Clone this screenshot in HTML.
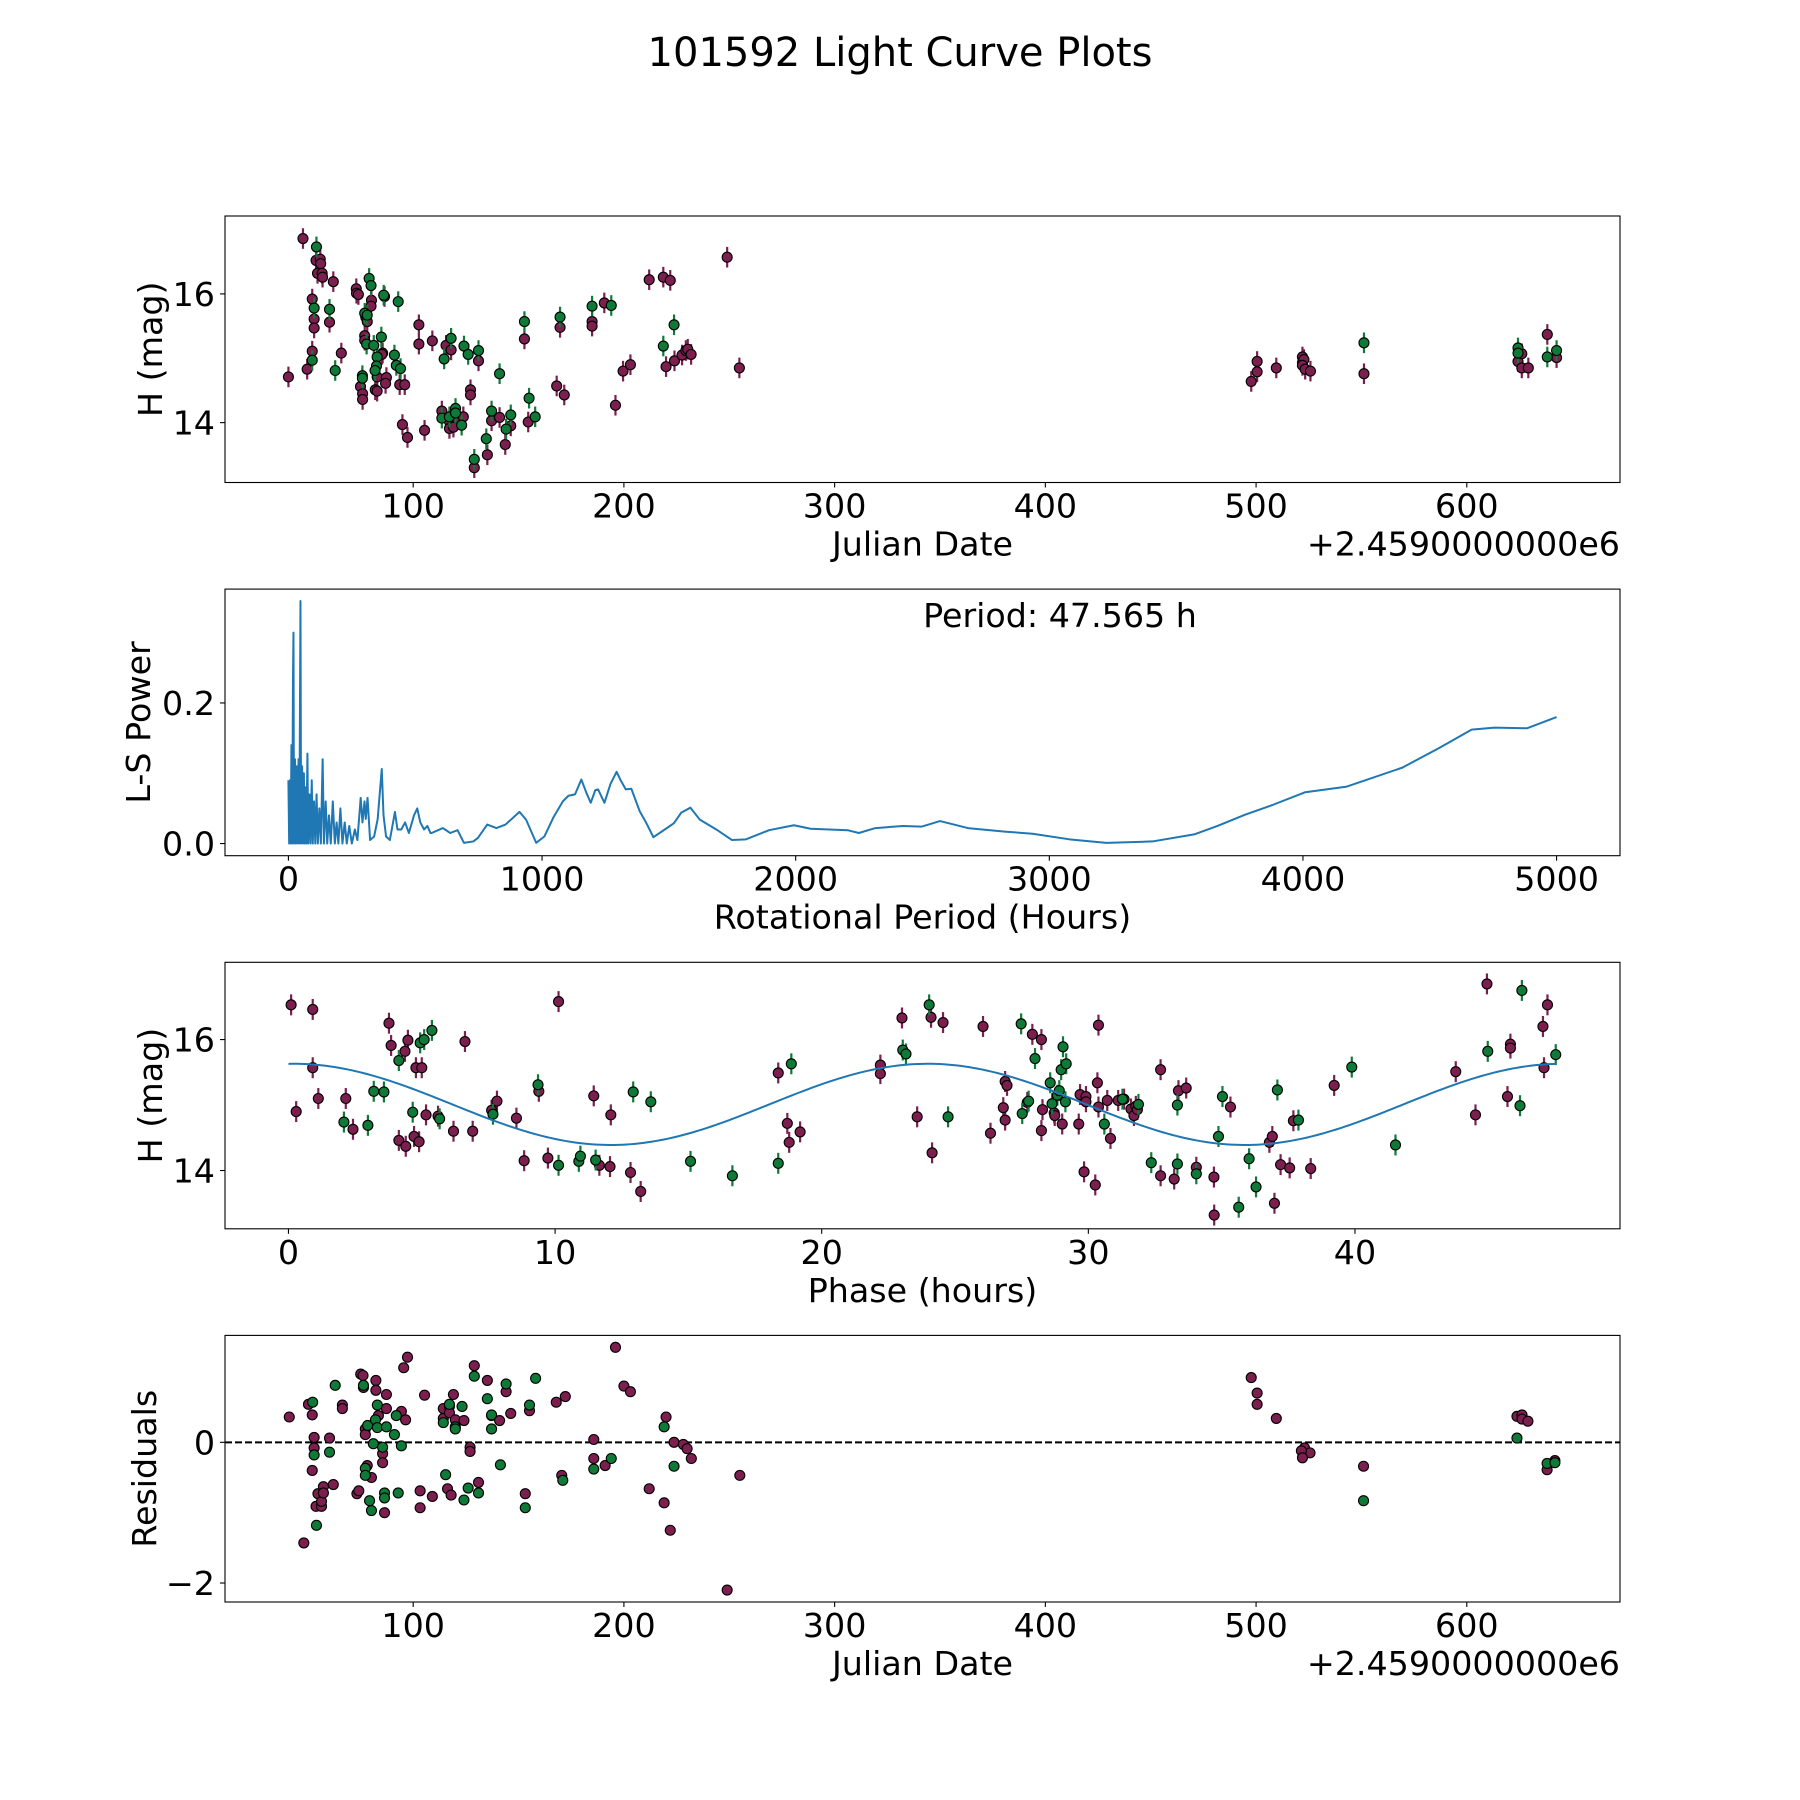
<!DOCTYPE html>
<html><head><meta charset="utf-8"><title>101592 Light Curve Plots</title>
<style>html,body{margin:0;padding:0;background:#fff}svg{display:block}text{font-family:"DejaVu Sans","Liberation Sans",sans-serif;fill:#000}</style>
</head><body>
<svg id="fig" width="1800" height="1800" viewBox="0 0 1800 1800" xmlns="http://www.w3.org/2000/svg">
<rect width="1800" height="1800" fill="#fff"/>
<text x="900" y="66" font-size="40" text-anchor="middle">101592 Light Curve Plots</text>
</svg>
<script>
// ---------- data ----------
const lcMagenta = [[40.8,14.71],[47.7,16.86],[49.7,14.83],[53.9,16.52],[55.9,16.54],[56.1,16.47],[54.6,16.32],[56.8,16.32],[57.0,16.26],[62.1,16.19],[52.1,15.92],[53.0,15.61],[53.0,15.47],[60.3,15.56],[52.1,15.11],[65.9,15.08],[73.0,16.08],[73.1,16.01],[74.0,15.99],[80.2,15.90],[80.0,15.81],[77.5,15.64],[78.2,15.57],[77.0,15.35],[77.0,15.28],[86.4,15.96],[85.5,15.08],[85.1,15.06],[82.9,14.71],[87.3,14.70],[86.9,14.61],[75.0,14.56],[76.0,14.45],[76.0,14.36],[82.0,14.51],[82.9,14.49],[93.6,14.59],[96.0,14.59],[94.9,13.97],[97.3,13.77],[102.7,15.52],[102.7,15.22],[105.4,13.88],[109.1,15.27],[115.6,15.20],[118.0,15.13],[131.0,14.96],[127.2,14.51],[127.2,14.43],[129.0,13.30],[113.6,14.18],[117.2,14.02],[117.2,13.91],[119.1,13.93],[120.1,14.08],[123.8,14.09],[135.2,13.50],[137.2,14.03],[141.0,14.08],[143.7,13.66],[146.3,13.95],[152.8,15.30],[154.6,14.01],[168.1,14.57],[171.7,14.43],[169.7,15.48],[184.9,15.57],[184.9,15.50],[190.7,15.86],[196.0,14.27],[199.6,14.80],[203.1,14.90],[212.0,16.22],[218.7,16.26],[222.0,16.21],[220.0,14.87],[224.0,14.96],[227.6,15.05],[229.4,15.12],[230.3,15.14],[231.9,15.06],[249.0,16.57],[254.8,14.85],[497.7,14.64],[500.5,14.79],[500.5,14.95],[509.6,14.85],[522.0,15.02],[522.0,14.93],[522.7,14.98],[522.0,14.89],[523.3,14.83],[525.8,14.80],[551.2,14.76],[624.3,14.95],[626.1,15.07],[626.1,14.85],[629.2,14.85],[638.2,15.37],[642.6,15.01]];
const lcGreen = [[54.1,16.73],[53.0,15.78],[60.3,15.76],[52.1,14.97],[63.0,14.81],[79.1,16.24],[80.0,16.13],[77.0,15.70],[78.2,15.67],[77.9,15.22],[81.3,15.20],[84.9,15.33],[86.0,15.98],[92.9,15.88],[82.9,15.02],[82.6,14.88],[81.9,14.81],[75.9,14.73],[75.9,14.69],[91.1,15.05],[92.0,14.89],[94.0,14.84],[114.7,14.99],[118.0,15.31],[124.1,15.19],[126.1,15.06],[131.0,15.12],[129.0,13.43],[113.6,14.07],[117.2,14.09],[120.1,14.22],[120.1,14.15],[123.0,13.96],[134.7,13.75],[137.2,14.18],[141.0,14.76],[144.1,13.90],[146.3,14.12],[152.8,15.57],[155.0,14.38],[157.9,14.09],[169.7,15.64],[184.9,15.81],[194.0,15.82],[218.7,15.19],[223.8,15.52],[551.2,15.24],[624.3,15.16],[624.3,15.08],[638.2,15.02],[642.6,15.12]];
const magErr = 0.16;

const lsPeriod = [0,3,6,9,12,15,18,20,22,26,29,33,36,40,43,47.6,50,54,57,61,64,68,71,75,78,83,87,92,96,101,106,111,116,122,128,135,140,147,153,160,167,175,183,190,197,205,213,222,230,240,250,262,272,285,292,300,305,312,322,338,352,368,375,385,400,420,430,445,460,475,495,508,520,535,548,560,565,609,638,667,692,729,747,784,820,856,911,937,977,1009,1046,1082,1104,1130,1155,1175,1192,1210,1221,1246,1270,1294,1310,1330,1352,1385,1410,1439,1476,1520,1549,1585,1622,1687,1749,1804,1895,1993,2059,2205,2249,2314,2423,2496,2569,2679,2824,2934,3079,3225,3407,3571,3663,3772,3881,4009,4173,4392,4537,4665,4756,4883,5000];
const lsPower = [0.09,0,0.09,0,0.14,0,0.23,0.30,0,0.12,0,0.11,0,0.12,0,0.345,0,0.11,0,0.10,0,0.08,0,0.128,0,0.07,0,0.09,0,0.06,0,0.07,0,0.05,0,0.12,0,0.06,0,0.04,0,0.06,0,0.03,0,0.05,0,0.03,0,0.025,0,0.02,0.005,0.065,0.03,0.06,0.035,0.065,0.005,0.01,0.035,0.106,0.04,0.01,0.005,0.045,0.02,0.02,0.03,0.015,0.04,0.05,0.03,0.02,0.025,0.015,0.015,0.022,0.015,0.019,0.001,0.003,0.008,0.027,0.022,0.027,0.045,0.034,0.001,0.010,0.038,0.060,0.068,0.070,0.091,0.072,0.058,0.076,0.077,0.058,0.085,0.102,0.090,0.077,0.078,0.046,0.030,0.009,0.018,0.029,0.044,0.051,0.034,0.020,0.005,0.006,0.019,0.026,0.021,0.019,0.015,0.022,0.025,0.024,0.032,0.022,0.017,0.014,0.006,0.001,0.003,0.013,0.025,0.041,0.055,0.073,0.081,0.108,0.136,0.162,0.165,0.164,0.180];
const bestPeriodLabel = "Period: 47.565 h";

const phMagenta = [[0.10,16.53],[0.91,16.46],[0.29,14.90],[0.91,15.57],[1.12,15.10],[2.15,15.10],[2.42,14.63],[3.77,16.25],[3.85,15.91],[4.14,14.46],[4.40,14.37],[4.37,15.82],[4.48,15.99],[4.71,14.52],[4.90,14.44],[4.78,15.57],[5.00,15.57],[5.16,14.85],[5.61,14.83],[6.19,14.60],[6.62,15.97],[6.91,14.60],[7.62,14.92],[7.82,15.06],[8.55,14.80],[8.84,14.15],[9.39,15.21],[9.73,14.19],[10.13,16.58],[11.45,15.14],[11.66,14.08],[12.06,14.06],[12.09,14.85],[12.83,13.97],[13.21,13.68],[18.37,15.49],[18.71,14.72],[18.78,14.43],[19.19,14.59],[22.20,15.61],[22.20,15.48],[23.01,16.33],[23.58,14.82],[24.10,16.34],[24.14,14.27],[24.55,16.26],[26.05,16.20],[26.33,14.57],[26.88,15.36],[26.95,15.30],[26.81,14.96],[26.88,14.77],[27.71,15.04],[27.90,16.08],[28.24,16.00],[28.28,14.93],[28.24,14.61],[28.72,14.88],[28.74,14.84],[29.02,14.71],[29.64,14.71],[29.69,15.16],[29.91,15.13],[29.91,15.05],[29.84,13.98],[30.26,13.78],[30.38,16.22],[30.34,15.34],[30.38,14.97],[30.71,15.07],[30.83,14.49],[31.12,15.07],[31.34,15.09],[31.60,14.94],[31.71,14.84],[31.78,14.98],[31.84,14.93],[32.71,15.54],[32.71,13.92],[33.22,13.87],[33.38,15.22],[33.67,15.26],[34.05,14.05],[34.71,13.90],[34.72,13.32],[35.33,14.97],[36.79,14.43],[36.90,14.52],[36.98,13.50],[37.21,14.09],[37.55,14.04],[37.69,14.76],[38.34,14.03],[39.22,15.30],[43.78,15.51],[44.52,14.85],[44.95,16.85],[45.72,15.13],[45.83,15.93],[45.83,15.87],[47.05,16.20],[47.09,15.57],[47.22,16.53]];
const phGreen = [[2.08,14.74],[2.98,14.69],[3.20,15.21],[3.58,15.20],[4.14,15.68],[4.66,14.89],[4.94,15.95],[5.09,16.00],[5.38,16.14],[5.67,14.79],[7.67,14.86],[9.36,15.31],[10.13,14.08],[10.89,14.14],[10.95,14.22],[11.52,14.16],[12.93,15.20],[13.59,15.05],[15.08,14.14],[16.65,13.92],[18.37,14.11],[18.86,15.63],[23.04,15.84],[23.16,15.78],[24.03,16.53],[24.74,14.82],[27.48,16.24],[27.52,14.87],[27.76,15.06],[28.00,15.71],[28.57,15.34],[28.64,15.02],[28.84,15.15],[28.91,15.22],[28.98,15.54],[29.05,15.89],[29.17,15.63],[29.14,15.05],[30.60,14.71],[31.28,15.09],[31.88,15.01],[32.36,14.12],[33.34,15.00],[33.34,14.10],[34.05,13.95],[34.88,14.52],[35.03,15.13],[35.64,13.44],[36.03,14.18],[36.29,13.75],[37.09,15.23],[37.88,14.77],[39.88,15.58],[41.52,14.39],[44.98,15.82],[46.19,14.99],[46.26,16.75],[47.53,15.77]];
const fitParams = [15.01, 0.62, 23.78, 0.2]; // mean, amplitude, period(h), phase offset
const foldPeriod = 47.565;

const resMagenta = [[41.2,0.36],[48.1,-1.43],[50.3,0.54],[52.1,0.39],[53.0,0.07],[53.0,-0.08],[52.1,-0.40],[53.9,-0.91],[54.8,-0.73],[56.5,-0.91],[56.5,-0.84],[57.4,-0.63],[57.4,-0.72],[60.3,0.06],[62.1,-0.60],[66.4,0.53],[66.4,0.48],[73.3,-0.73],[74.2,-0.69],[75.1,0.97],[76.2,0.95],[76.4,0.78],[77.3,0.19],[77.3,0.11],[78.2,-0.33],[80.2,-0.50],[82.3,0.88],[82.3,0.74],[83.5,0.38],[85.5,-0.16],[85.5,-0.29],[87.3,0.68],[87.3,0.48],[86.4,-1.00],[94.4,0.44],[96.4,0.32],[95.5,1.06],[97.3,1.21],[103.3,-0.69],[103.3,-0.93],[105.4,0.67],[109.1,-0.77],[114.3,0.48],[114.3,0.34],[116.3,-0.66],[117.2,0.51],[117.2,0.42],[118.0,-0.75],[119.1,0.68],[120.0,0.32],[124.1,0.31],[127.0,-0.07],[127.0,-0.13],[129.0,1.09],[131.0,-0.57],[135.2,0.88],[137.2,0.38],[141.0,0.31],[144.1,0.72],[146.3,0.41],[153.2,-0.73],[155.2,0.45],[167.9,0.57],[172.2,0.65],[170.5,-0.47],[185.7,0.04],[185.7,-0.23],[191.1,-0.33],[196.0,1.35],[200.0,0.80],[203.1,0.72],[212.0,-0.66],[219.1,-0.86],[220.0,0.36],[222.0,-1.25],[223.8,0.00],[228.2,-0.03],[230.0,-0.09],[232.0,-0.23],[249.0,-2.10],[255.0,-0.47],[497.7,0.92],[500.5,0.70],[500.5,0.54],[509.6,0.34],[522.2,-0.20],[523.0,-0.08],[525.6,-0.15],[521.5,-0.12],[522.0,-0.22],[551.0,-0.34],[623.8,0.37],[626.2,0.39],[626.2,0.33],[629.0,0.30],[638.1,-0.39],[641.8,-0.26]];
const resGreen = [[52.3,0.57],[53.0,-0.18],[54.1,-1.18],[60.3,-0.14],[63.0,0.81],[76.4,0.81],[78.4,0.24],[77.3,-0.37],[77.3,-0.47],[79.3,-0.83],[80.2,-0.97],[81.1,-0.02],[83.0,0.53],[82.1,0.32],[83.0,0.21],[85.5,-0.07],[87.3,0.22],[86.4,-0.72],[86.4,-0.79],[92.0,0.38],[91.1,0.11],[92.9,-0.72],[94.4,-0.05],[114.3,0.28],[115.4,-0.46],[117.2,0.54],[120.0,0.22],[120.0,0.19],[123.2,0.51],[124.1,-0.82],[126.1,-0.65],[129.0,0.94],[131.0,-0.72],[135.2,0.62],[137.2,0.39],[137.2,0.19],[141.4,-0.32],[144.1,0.83],[153.2,-0.93],[155.2,0.53],[158.1,0.91],[171.0,-0.54],[185.7,-0.38],[194.0,-0.23],[219.1,0.22],[223.8,-0.34],[551.0,-0.83],[623.8,0.06],[638.1,-0.30],[641.8,-0.29]];

const jdTicks = [100,200,300,400,500,600];
const hTicks = [14,16];
const perTicks = [0,1000,2000,3000,4000,5000];
const powTicks = [0.0,0.2];
const phTicks = [0,10,20,30,40];
const resTicks = [-2,0];

// ---------- drawing ----------
const NS = "http://www.w3.org/2000/svg";
const svg = document.getElementById('fig');
const MAG = '#7c1f4f', GRN = '#0f7a37', BLUE = '#1f77b4';
function el(tag, attrs, parent) {
  const e = document.createElementNS(NS, tag);
  for (const k in attrs) e.setAttribute(k, attrs[k]);
  (parent || svg).appendChild(e);
  return e;
}
function makeAxes(name, y0, y1, xlim, ylim) {
  const x0 = 225, x1 = 1620;
  const g = el('g', {});
  
  
  const sx = v => x0 + (v - xlim[0]) / (xlim[1] - xlim[0]) * (x1 - x0);
  const sy = v => y1 - (v - ylim[0]) / (ylim[1] - ylim[0]) * (y1 - y0);
  return {g, x0, x1, y0, y1, sx, sy};
}
function fmt(v, dec) { const s = v.toFixed(dec); return s.replace('-', '\u2212'); }
function finishAxes(ax, xt, yt, ydec, xlabel, ylabel, ylabelX, offsetText) {
  const {g, x0, x1, y0, y1, sx, sy} = ax;
  const fr = el('rect', {x: x0, y: y0, width: x1 - x0, height: y1 - y0, fill: 'none', stroke: '#000', 'stroke-width': 1.1}, g);
  
  
  xt.forEach(v => {
    const x = sx(v);
    el('line', {x1: x, x2: x, y1: y1, y2: y1 + 5, stroke: '#000', 'stroke-width': 1.1}, g);
    const t = el('text', {x: x, y: y1 + 35, 'font-size': 33.3, 'text-anchor': 'middle'}, g);
    
    
    t.textContent = fmt(v, 0);
  });
  yt.forEach(v => {
    const y = sy(v);
    el('line', {x1: x0 - 5, x2: x0, y1: y, y2: y, stroke: '#000', 'stroke-width': 1.1}, g);
    const t = el('text', {x: x0 - 10, y: y + 12, 'font-size': 33.3, 'text-anchor': 'end'}, g);
    
    
    t.textContent = fmt(v, ydec);
  });
  const xl = el('text', {x: (x0 + x1) / 2, y: y1 + 73, 'font-size': 33.3, 'text-anchor': 'middle'}, g);
  
  
  xl.textContent = xlabel;
  const yc = (y0 + y1) / 2;
  const yl = el('text', {x: ylabelX, y: yc, 'font-size': 33.3, 'text-anchor': 'middle', transform: `rotate(-90 ${ylabelX} ${yc})`}, g);
  
  
  yl.textContent = ylabel;
  if (offsetText) {
    const ot = el('text', {x: x1, y: y1 + 73, 'font-size': 33.3, 'text-anchor': 'end'}, g);
    
    
    ot.textContent = offsetText;
  }
}
function drawPoints(ax, pts, color, err, name) {
  const g = el('g', {}, ax.g);
  
  
  if (err) pts.forEach(p => {
    const l = el('line', {x1: ax.sx(p[0]), x2: ax.sx(p[0]), y1: ax.sy(p[1] - err), y2: ax.sy(p[1] + err), stroke: color, 'stroke-width': 2.2}, g);
    
    
  });
  pts.forEach(p => {
    const c = el('circle', {cx: ax.sx(p[0]), cy: ax.sy(p[1]), r: 5, fill: color, stroke: '#000', 'stroke-width': 1.1}, g);
    
    
  });
}

// Panel 1: light curve
const ax1 = makeAxes('light-curve-panel', 216, 482.5, [10.7, 672.7], [13.07, 17.21]);
drawPoints(ax1, lcMagenta, MAG, magErr, 'magenta-series');
drawPoints(ax1, lcGreen, GRN, magErr, 'green-series');
finishAxes(ax1, jdTicks, hTicks, 0, 'Julian Date', 'H (mag)', 162, '+2.4590000000e6');

// Panel 2: periodogram
const ax2 = makeAxes('periodogram-panel', 589.1, 855.7, [-250, 5250], [-0.0173, 0.362]);
const ptsLS = lsPeriod.map((p, i) => `${ax2.sx(p).toFixed(2)},${ax2.sy(lsPower[i]).toFixed(2)}`).join(' ');
const lsLine = el('polyline', {points: ptsLS, fill: 'none', stroke: BLUE, 'stroke-width': 2, 'stroke-linejoin': 'round'}, ax2.g);


const pt = el('text', {x: 1060, y: 627, 'font-size': 33.3, 'text-anchor': 'middle'}, ax2.g);


pt.textContent = bestPeriodLabel;
finishAxes(ax2, perTicks, powTicks, 1, 'Rotational Period (Hours)', 'L-S Power', 150, null);

// Panel 3: phase-folded
const ax3 = makeAxes('phase-folded-panel', 962.3, 1228.8, [-2.38, 49.94], [13.11, 17.18]);
drawPoints(ax3, phMagenta, MAG, magErr, 'magenta-phase-series');
drawPoints(ax3, phGreen, GRN, magErr, 'green-phase-series');
const fitPts = [];
for (let i = 0; i <= 300; i++) {
  const t = foldPeriod * i / 300;
  const m = fitParams[0] + fitParams[1] * Math.cos(2 * Math.PI * (t - fitParams[3]) / fitParams[2]);
  fitPts.push(`${ax3.sx(t).toFixed(2)},${ax3.sy(m).toFixed(2)}`);
}
const fitLine = el('polyline', {points: fitPts.join(' '), fill: 'none', stroke: BLUE, 'stroke-width': 2}, ax3.g);


finishAxes(ax3, phTicks, hTicks, 0, 'Phase (hours)', 'H (mag)', 162, null);

// Panel 4: residuals
const ax4 = makeAxes('residuals-panel', 1335.4, 1602, [10.7, 672.7], [-2.27, 1.52]);
const zl = el('line', {x1: ax4.x0, x2: ax4.x1, y1: ax4.sy(0), y2: ax4.sy(0), stroke: '#000', 'stroke-width': 2, 'stroke-dasharray': '7,3'}, ax4.g);


drawPoints(ax4, resMagenta, MAG, 0, 'magenta-residuals');
drawPoints(ax4, resGreen, GRN, 0, 'green-residuals');
finishAxes(ax4, jdTicks, resTicks, 0, 'Julian Date', 'Residuals', 156, '+2.4590000000e6');
</script>
</body></html>
